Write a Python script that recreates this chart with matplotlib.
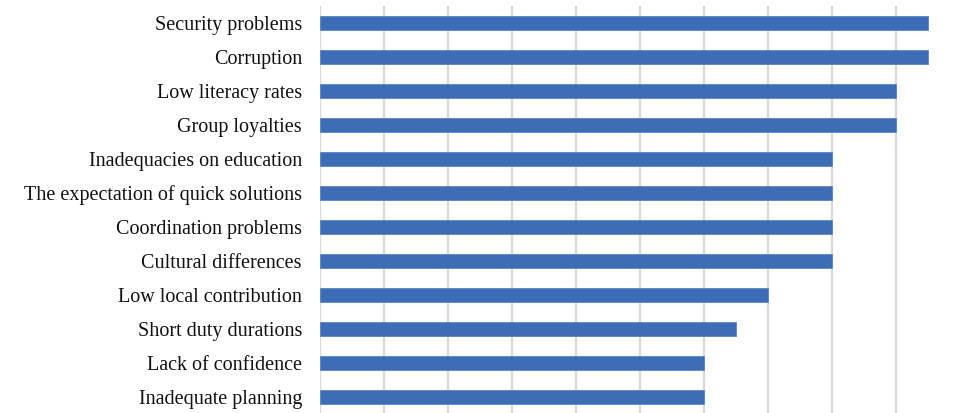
import matplotlib
matplotlib.use("Agg")
import matplotlib.pyplot as plt

categories = [
    "Security problems",
    "Corruption",
    "Low literacy rates",
    "Group loyalties",
    "Inadequacies on education",
    "The expectation of quick solutions",
    "Coordination problems",
    "Cultural differences",
    "Low local contribution",
    "Short duty durations",
    "Lack of confidence",
    "Inadequate planning",
]
values = [9.5, 9.5, 9, 9, 8, 8, 8, 8, 7, 6.5, 6, 6]

plt.rcParams['font.family'] = ['Liberation Serif', 'DejaVu Serif']

W, H = 955, 413
fig = plt.figure(figsize=(W / 100, H / 100), dpi=100)
ax = fig.add_axes([320 / W, -1 / H, 640 / W, 408 / H])

pos = list(range(len(categories)))
ax.barh(pos, values, height=0.39, color='#3d6db5', edgecolor='#5a85c6',
        linewidth=0.6, zorder=3)

ax.set_xlim(0, 10)
ax.set_ylim(len(categories) - 0.5, -0.5)
ax.set_xticks(range(0, 11))
ax.xaxis.grid(True, color='#d9d9d9', linewidth=1.6, zorder=0)
ax.set_yticks(pos)
ax.set_yticklabels(categories, fontsize=14.5, color='#111111')
ax.tick_params(axis='y', length=0, pad=13)
ax.tick_params(axis='x', length=0, labelbottom=False)
for s in ax.spines.values():
    s.set_visible(False)

fig.savefig("out.png", dpi=100)
